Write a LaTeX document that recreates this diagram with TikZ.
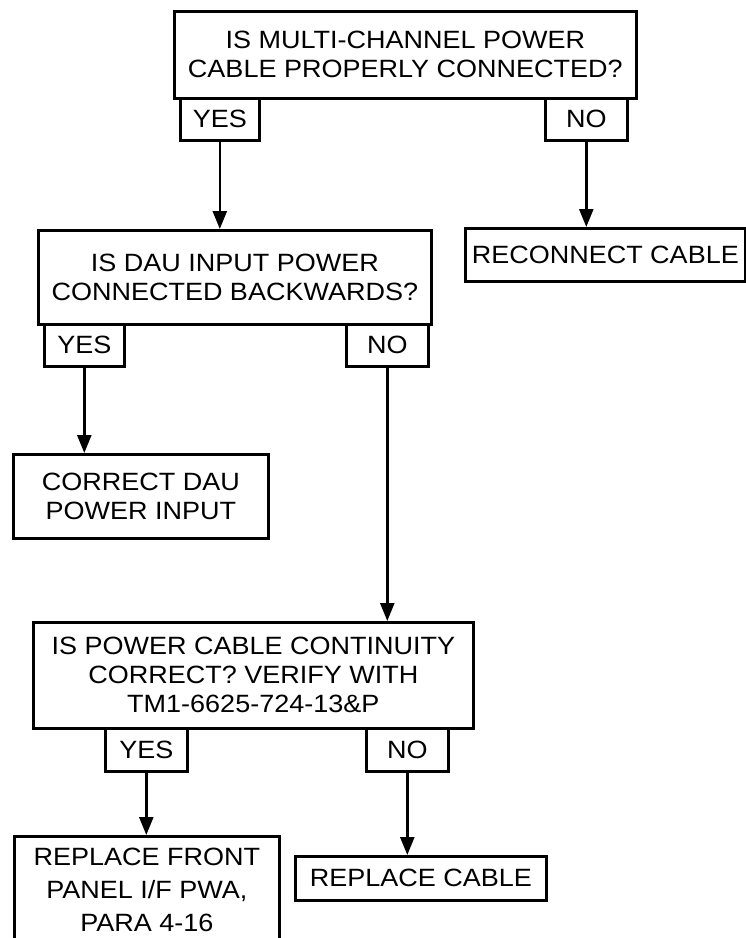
\documentclass[tikz,border=0pt]{standalone}
\usepackage{fontspec}
\setmainfont{Liberation Sans}[FakeStretch=1.08]
\usetikzlibrary{arrows.meta}
\begin{document}
\begin{tikzpicture}[x=1pt,y=-1pt,
  box/.style={draw, line width=2.6pt, inner sep=0pt, align=center, anchor=north west,
    font=\fontsize{25}{29}\selectfont},
  arr/.style={line width=2.5pt, -{Triangle[width=14pt,length=18pt]}}]
\useasboundingbox (0,0) rectangle (746,938);
\clip (0,0) rectangle (746,938);
\fill[white] (0,0) rectangle (746,938);
% first decision
\node[box, minimum width=462pt, minimum height=87pt] (q1) at (173,10)
  {IS MULTI-CHANNEL POWER\\CABLE PROPERLY CONNECTED?};
\node[box, minimum width=79pt, minimum height=42pt] (y1) at (179,97) {YES};
\node[box, minimum width=82pt, minimum height=42pt] (n1) at (544,97) {NO};
% second level
\node[box, minimum width=393pt, minimum height=94pt] (q2) at (37,229)
  {IS DAU INPUT POWER\\CONNECTED BACKWARDS?};
\node[box, minimum width=280pt, minimum height=53pt] (recon) at (464,227)
  {RECONNECT CABLE};
\node[box, minimum width=80pt, minimum height=42pt] (y2) at (43,323) {YES};
\node[box, minimum width=82pt, minimum height=42pt] (n2) at (345,323) {NO};
% correct DAU
\node[box, minimum width=255pt, minimum height=84pt] (corr) at (12,453)
  {CORRECT DAU\\POWER INPUT};
% third decision
\node[box, minimum width=440pt, minimum height=106pt] (q3) at (32,621)
  {IS POWER CABLE CONTINUITY\\CORRECT? VERIFY WITH\\TM1-6625-724-13\&P};
\node[box, minimum width=82pt, minimum height=43pt] (y3) at (104,727) {YES};
\node[box, minimum width=82pt, minimum height=43pt] (n3) at (365,727) {NO};
% final actions
\node[box, minimum width=265pt, inner ysep=12pt, font=\fontsize{25}{33}\selectfont] (front) at (13,835)
  {REPLACE FRONT\\PANEL I/F PWA,\\PARA 4-16\rule[-60pt]{0pt}{60pt}};
\node[box, minimum width=251pt, minimum height=44pt] (rcable) at (294,855)
  {REPLACE CABLE};
% connectors
\draw[arr] (y1.south) -- (y1.south |- q2.north);
\draw[arr] (n1.south) -- (n1.south |- recon.north);
\draw[arr] (y2.south) -- (y2.south |- corr.north);
\draw[arr] (n2.south) -- (n2.south |- q3.north);
\draw[arr] (y3.south) -- (y3.south |- front.north);
\draw[arr] (n3.south) -- (n3.south |- rcable.north);
\end{tikzpicture}
\end{document}
